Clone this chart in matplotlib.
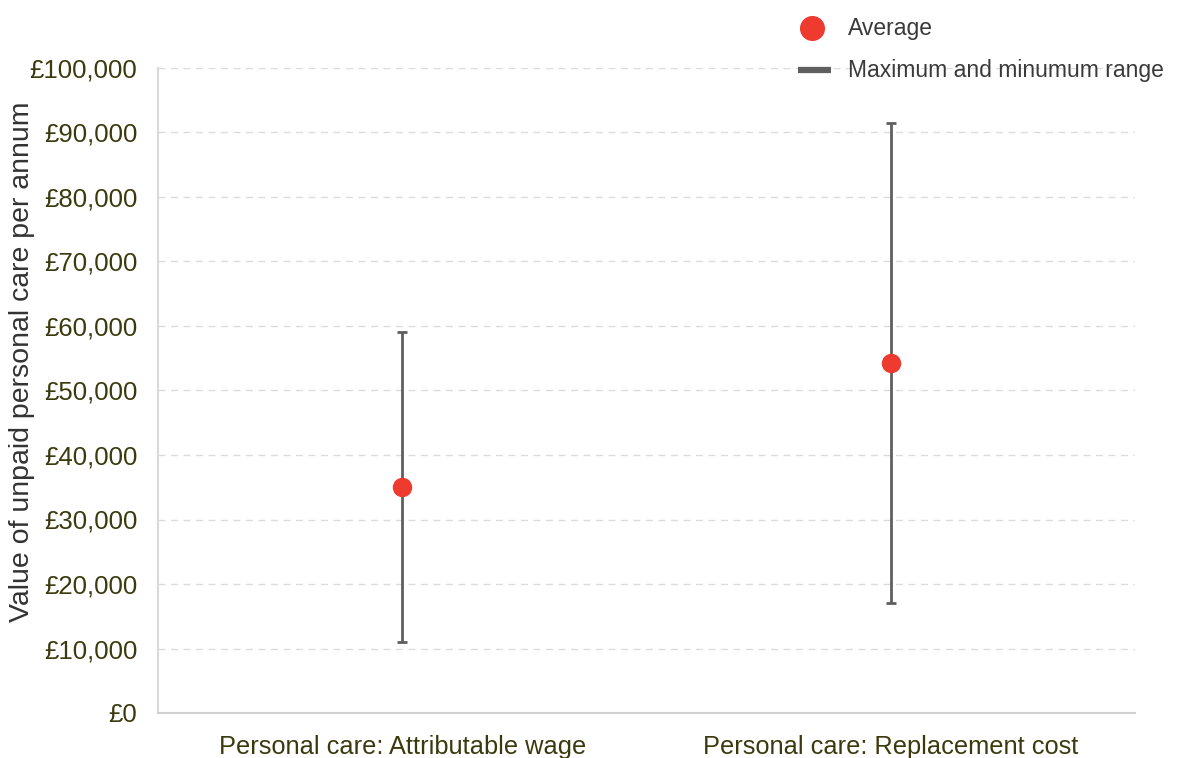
import matplotlib
matplotlib.use("Agg")
import matplotlib.pyplot as plt
from matplotlib.lines import Line2D
import numpy as np

categories = ["Personal care: Attributable wage", "Personal care: Replacement cost"]
averages = [35000, 54300]
maximums = [59000, 91500]
minimums = [11000, 17000]
yticks = list(range(0, 100001, 10000))
ytick_labels = ["£{:,}".format(v) for v in yticks]
legend_labels = ["Average", "Maximum and minumum range"]

plt.rcParams['font.family'] = ['Liberation Sans', 'DejaVu Sans']

W, H = 1177, 758
fig = plt.figure(figsize=(W / 100, H / 100), dpi=100)
ax = fig.add_axes([158 / W, 45 / H, 977 / W, 645 / H])

x = np.arange(len(categories))
avg = np.array(averages)
lo = avg - np.array(minimums)
hi = np.array(maximums) - avg

ax.errorbar(x, avg, yerr=[lo, hi], fmt='none', ecolor='#5f5f5f', elinewidth=2,
            capsize=3.5, capthick=2, zorder=2)
ax.plot(x, avg, 'o', color='#ee3a2f', markersize=13, zorder=3)

ax.set_xlim(-0.5, 1.5)
ax.set_ylim(0, 100000)
ax.set_yticks(yticks)
ax.set_yticklabels(ytick_labels, fontsize=18.5, color='#3b3a0e')
ax.set_xticks(x)
ax.set_xticklabels(categories, fontsize=18.3, color='#3b3a0e')
ax.tick_params(axis='both', length=0)
ax.tick_params(axis='y', pad=15)
ax.tick_params(axis='x', pad=16)

ax.grid(axis='y', color='#dcdcdc', linestyle=(0, (5, 4)), linewidth=1)
ax.set_axisbelow(True)
for s in ['top', 'right']:
    ax.spines[s].set_visible(False)
ax.spines['left'].set_color('#d9d9d9')
ax.spines['bottom'].set_color('#d0d0d0')
ax.spines['left'].set_linewidth(1.5)
ax.spines['bottom'].set_linewidth(1.5)

ax.set_ylabel("Value of unpaid personal care per annum", fontsize=20.5, color='#333333',
              va='center')
ax.yaxis.set_label_coords((22 - 158) / 977, 0.544)

# legend drawn in figure coordinates
fig.add_artist(Line2D([812 / W], [1 - 28 / H], marker='o', linestyle='none',
                      color='#ee3a2f', markersize=17, transform=fig.transFigure))
fig.add_artist(Line2D([798 / W, 831 / W], [1 - 70 / H, 1 - 70 / H], color='#5f5f5f',
                      linewidth=4.5, solid_capstyle='butt', transform=fig.transFigure))
fig.text(848 / W, 1 - 28 / H, legend_labels[0], fontsize=16.5, color='#3a3a3a',
         va='center', ha='left')
fig.text(848 / W, 1 - 70 / H, legend_labels[1], fontsize=16.5, color='#3a3a3a',
         va='center', ha='left')

fig.savefig("out.png", dpi=100, facecolor='white')
